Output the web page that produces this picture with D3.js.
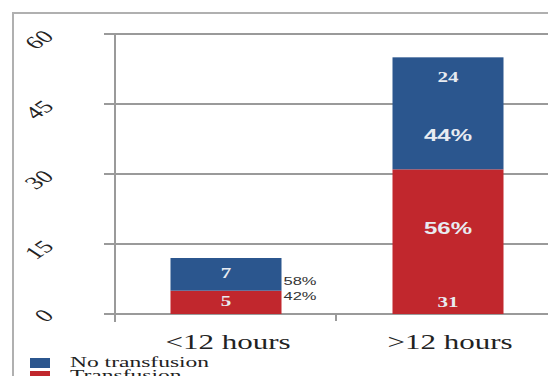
<!DOCTYPE html>
<html>
<head>
<meta charset="utf-8">
<script src="https://cdn.jsdelivr.net/npm/d3@7"></script>
<style>
  body { margin: 0; background: white; }
  svg { display: block; }
</style>
</head>
<body>
<div id="vis"></div>
<script>
var categories = ["<12 hours", ">12 hours"];
var transfusion = [5, 31];
var noTransfusion = [7, 24];
var transfusionPct = ["42%", "56%"];
var noTransfusionPct = ["58%", "44%"];
var yTicks = [0, 15, 30, 45, 60];
var legendLabels = ["No transfusion", "Transfusion"];

function draw(width, height) {
    var svg = d3.select("#vis").append("svg")
        .attr("width", width)
        .attr("height", height);

    var blue = "#2b568e";
    var red = "#c1272d";
    var grid = "#9a9a9a";
    var stretch = 1.5;   // the picture is stretched sideways

    // text with a horizontal stretch
    function label(x, y, txt, attrs, anchor, extra, sx) {
        var t = svg.append("text")
            .attr("transform", "translate(" + x + "," + y + ") scale(" + (sx || stretch) + ",1)" + (extra || ""))
            .attr("text-anchor", anchor || "middle")
            .text(txt);
        for (var k in attrs) t.attr(k, attrs[k]);
        return t;
    }

    // outer frame
    svg.append("path")
        .attr("d", "M13," + height + "V13H" + width)
        .attr("fill", "none")
        .attr("stroke", "#b0b0b0")
        .attr("stroke-width", 2);

    var scaleY = d3.scaleLinear()
        .domain([0, 60])
        .range([314, 34]);

    var scaleX = d3.scaleBand()
        .domain(categories)
        .range([115, 559])
        .paddingInner(0.5)
        .paddingOuter(0.25);

    // gridlines + rotated tick labels
    yTicks.forEach(function(d) {
        svg.append("line")
            .attr("x1", 104).attr("x2", width)
            .attr("y1", scaleY(d)).attr("y2", scaleY(d))
            .attr("stroke", grid)
            .attr("stroke-width", 2);
        label(d === 0 ? 46 : 41, scaleY(d) + (d === 0 ? 3 : 7), d,
            {"font-family": "Liberation Serif", "font-size": 18, "fill": "#222", "dominant-baseline": "middle"},
            "middle", " rotate(-45)");
    });

    // y axis line
    svg.append("line")
        .attr("x1", 115).attr("x2", 115)
        .attr("y1", 34).attr("y2", 322)
        .attr("stroke", grid)
        .attr("stroke-width", 2);

    // tick between categories
    svg.append("line")
        .attr("x1", 336).attr("x2", 336)
        .attr("y1", 314).attr("y2", 321)
        .attr("stroke", grid)
        .attr("stroke-width", 2);

    var bw = scaleX.bandwidth();

    categories.forEach(function(c, i) {
        var x = scaleX(c);
        svg.append("rect")
            .attr("x", x).attr("width", bw)
            .attr("y", scaleY(transfusion[i]))
            .attr("height", scaleY(0) - scaleY(transfusion[i]))
            .attr("fill", red);
        svg.append("rect")
            .attr("x", x).attr("width", bw)
            .attr("y", scaleY(transfusion[i] + noTransfusion[i]))
            .attr("height", scaleY(transfusion[i]) - scaleY(transfusion[i] + noTransfusion[i]))
            .attr("fill", blue);

        label(x + bw / 2 + 2, 349, c,
            {"font-family": "Liberation Serif", "font-size": 20, "fill": "#222"}, "middle", "", 1.55);
    });

    var c0 = scaleX(categories[0]) + bw / 2;
    var c1 = scaleX(categories[1]) + bw / 2;

    var valFont = {"font-family": "Liberation Serif", "font-size": 14, "font-weight": "bold", "fill": "#e8ebf1"};
    label(c0, scaleY(transfusion[0] + noTransfusion[0]) + 20, noTransfusion[0], valFont);
    label(c0, scaleY(0) - 8, transfusion[0], valFont);
    label(c1, scaleY(transfusion[1] + noTransfusion[1]) + 25, noTransfusion[1], valFont);
    label(c1, scaleY(0) - 7, transfusion[1], valFont);

    var pctFont = {"font-family": "Liberation Sans", "font-size": 16, "font-weight": "bold", "fill": "#e8ebf1"};
    label(c1, 141, noTransfusionPct[1], pctFont);
    label(c1, 234, transfusionPct[1], pctFont);

    var sideFont = {"font-family": "Liberation Sans", "font-size": 11, "fill": "#333"};
    var right0 = scaleX(categories[0]) + bw + 2;
    label(right0, 285, noTransfusionPct[0], sideFont, "start");
    label(right0, 300, transfusionPct[0], sideFont, "start");

    // legend
    var legendColors = [blue, red];
    legendLabels.forEach(function(l, i) {
        svg.append("rect")
            .attr("x", 30).attr("y", 358 + i * 13)
            .attr("width", 20).attr("height", 10)
            .attr("fill", legendColors[i]);
        label(70, 367 + i * 13, l,
            {"font-family": "Liberation Serif", "font-size": 14, "fill": "#222"}, "start", "", 1.68);
    });
}

draw(548, 376);
</script>
</body>
</html>
